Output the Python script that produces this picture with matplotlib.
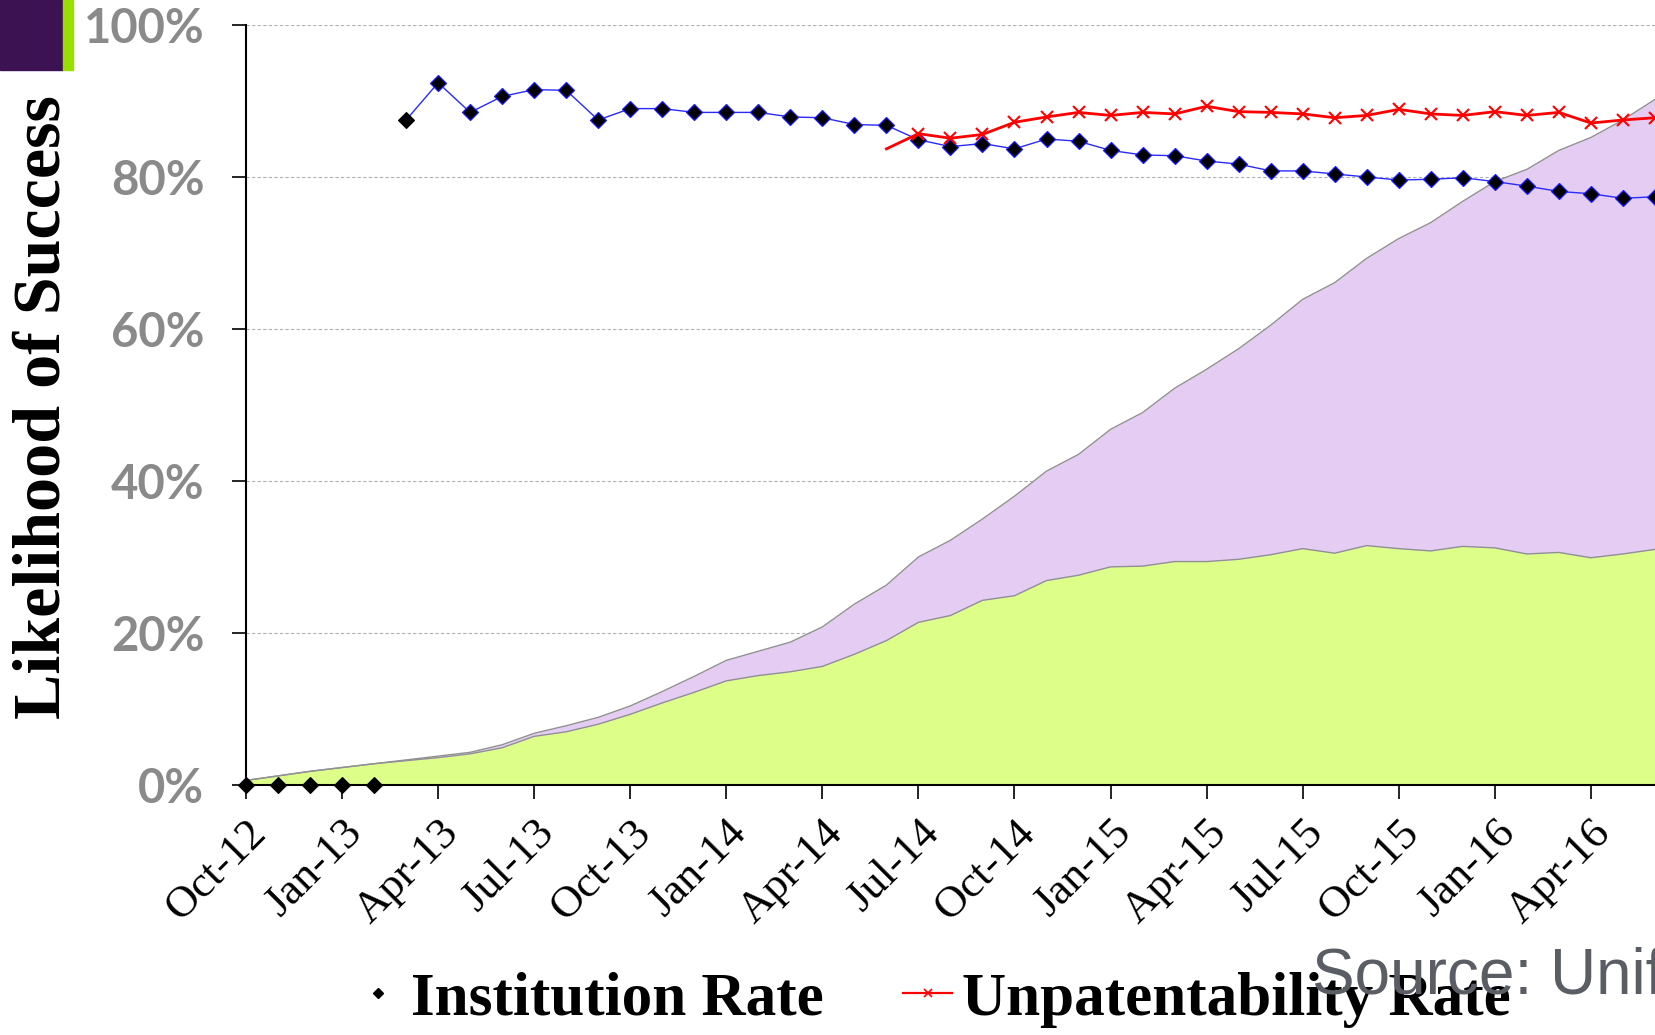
import matplotlib
matplotlib.use("Agg")
import matplotlib.pyplot as plt
from matplotlib.lines import Line2D
from matplotlib.patches import Rectangle
import numpy as np

# ---------------- data (percent) ----------------
months = ["Oct-12","Nov-12","Dec-12","Jan-13","Feb-13","Mar-13","Apr-13","May-13","Jun-13",
          "Jul-13","Aug-13","Sep-13","Oct-13","Nov-13","Dec-13","Jan-14","Feb-14","Mar-14",
          "Apr-14","May-14","Jun-14","Jul-14","Aug-14","Sep-14","Oct-14","Nov-14","Dec-14",
          "Jan-15","Feb-15","Mar-15","Apr-15","May-15","Jun-15","Jul-15","Aug-15","Sep-15",
          "Oct-15","Nov-15","Dec-15","Jan-16","Feb-16","Mar-16","Apr-16","May-16","Jun-16"]

institution = [0, 0, 0, 0, 0, 87.5, 92.4, 88.5, 90.6, 91.5, 91.4, 87.5, 89.0, 89.0, 88.5,
               88.5, 88.5, 87.9, 87.8, 86.9, 86.8, 84.9, 84.0, 84.4, 83.7, 85.0, 84.7,
               83.5, 82.9, 82.8, 82.1, 81.7, 80.8, 80.8, 80.4, 80.0, 79.6, 79.7, 79.9,
               79.4, 78.8, 78.1, 77.8, 77.2, 77.4]

unpatentability = [None]*20 + [83.7, 85.7, 85.1, 85.6, 87.2, 87.9, 88.5, 88.1, 88.5, 88.3,
                               89.3, 88.6, 88.5, 88.3, 87.8, 88.1, 88.9, 88.3, 88.1, 88.6,
                               88.1, 88.5, 87.1, 87.5, 87.8]

green_area = [0.6, 1.2, 1.8, 2.3, 2.8, 3.2, 3.6, 4.1, 4.9, 6.4, 7.0, 8.0, 9.3, 10.8, 12.2,
              13.7, 14.4, 14.9, 15.6, 17.2, 19.0, 21.4, 22.3, 24.3, 24.9, 26.9, 27.6,
              28.7, 28.8, 29.4, 29.4, 29.7, 30.3, 31.1, 30.5, 31.5, 31.1, 30.8, 31.4,
              31.2, 30.4, 30.6, 29.9, 30.4, 31.0]

purple_area_top = [0.6, 1.2, 1.8, 2.3, 2.8, 3.3, 3.8, 4.3, 5.3, 6.8, 7.8, 8.9, 10.4, 12.3, 14.3,
                   16.4, 17.6, 18.8, 20.8, 23.8, 26.3, 30.0, 32.2, 35.0, 38.0, 41.3, 43.5,
                   46.8, 49.0, 52.2, 54.7, 57.4, 60.5, 63.9, 66.1, 69.3, 71.9, 74.0, 76.8,
                   79.4, 81.0, 83.5, 85.2, 87.5, 90.2]

tick_labels = ["Oct-12","Jan-13","Apr-13","Jul-13","Oct-13","Jan-14","Apr-14","Jul-14",
               "Oct-14","Jan-15","Apr-15","Jul-15","Oct-15","Jan-16","Apr-16"]
y_ticks = [0, 20, 40, 60, 80, 100]
y_tick_labels = ["0%", "20%", "40%", "60%", "80%", "100%"]

# ---------------- figure ----------------
SERIF = ["Liberation Serif", "DejaVu Serif"]
SANS_B = ["Lato", "DejaVu Sans"]
fig = plt.figure(figsize=(16.55, 10.35), dpi=100)
W, H = 1655, 1035
px_per_month = 32.02
x0_px = 246
xmax = 47
ax = fig.add_axes([x0_px / W, (H - 785) / H, xmax * px_per_month / W, 760 / H])

x = np.arange(len(months))
g = np.array(green_area)
p = np.array(purple_area_top)
ax.fill_between(x, 0, g, color="#ddff8a", lw=0, zorder=1)
ax.fill_between(x, g, p, color="#e5ccf3", lw=0, zorder=1)
ax.plot(x, g, color="#909090", lw=1.0, zorder=2)
ax.plot(x, p, color="#909090", lw=1.0, zorder=2)

for yv in y_ticks[1:]:
    ax.axhline(yv, color="#b0b0b0", lw=0.8, ls=(0, (3, 2)), zorder=0.5)

inst = np.array(institution, dtype=float)
ax.plot(x[5:], inst[5:], color="#2a2aff", lw=1.0, zorder=4)
ax.plot(x[:6], inst[:6], ls="none", marker="D", ms=8, mfc="black", mec="black", mew=0.8,
        zorder=5, clip_on=False)
ax.plot(x[6:], inst[6:], ls="none", marker="D", ms=8, mfc="black", mec="#1a1aff", mew=0.9,
        zorder=5)

up = np.array([np.nan if v is None else v for v in unpatentability], dtype=float)
ax.plot(x, up, color="#ff0000", lw=2.0, zorder=6)
ax.plot(x[21:], up[21:], ls="none", marker="x", ms=8, mec="#ff0000", mew=1.5, zorder=6)

ax.set_xlim(0, xmax)
ax.set_ylim(0, 100)
for s in ("top", "right"):
    ax.spines[s].set_visible(False)
ax.spines["left"].set_linewidth(1.5)
ax.spines["bottom"].set_linewidth(1.5)
ax.spines["left"].set_zorder(3)
ax.spines["bottom"].set_zorder(3)

ax.set_yticks(y_ticks)
ax.set_yticklabels(y_tick_labels, family=SANS_B, fontsize=34, fontweight="bold", color="#8a8a8a")
ax.set_xticks(np.arange(0, 43, 3))
ax.set_xticklabels(tick_labels, family=SERIF, fontsize=32, rotation=45, ha="right",
                   va="top", rotation_mode="anchor")
ax.tick_params(axis="both", direction="out", length=10, width=1.2, color="black")
ax.tick_params(axis="y", pad=20)
ax.tick_params(axis="x", pad=10)

fig.text(0.026, 0.607, "Likelihood of Success", rotation=90, ha="center", va="center",
         family=SERIF, fontsize=49, fontweight="bold", color="black")

# top-left decoration
fig.patches.append(Rectangle((0, 1 - 70 / H), 63 / W, 70 / H, transform=fig.transFigure,
                             color="#3c1253", zorder=10))
fig.patches.append(Rectangle((63 / W, 1 - 70 / H), 10 / W, 70 / H, transform=fig.transFigure,
                             color="#9ade00", zorder=10))

handles = [Line2D([], [], ls="none", marker="D", ms=5, mfc="black", mec="black"),
           Line2D([], [], color="#ff0000", lw=1.6, marker="x", ms=6, mec="#ff0000", mew=1.2)]
leg = fig.legend(handles, ["Institution Rate", "Unpatentability Rate"], loc="center",
                 bbox_to_anchor=(0.563, 0.034), ncol=2, frameon=False,
                 prop={"family": SERIF, "size": 44, "weight": "bold"},
                 handlelength=0.8, handletextpad=0.15, columnspacing=1.3, borderpad=0)

fig.text(1312 / W, 0.040, "Source: Unified Patents", family=["Liberation Sans", "DejaVu Sans"],
         fontsize=46, color="#5a5e64", ha="left", va="baseline", zorder=20)

fig.savefig("out.png", dpi=100)
